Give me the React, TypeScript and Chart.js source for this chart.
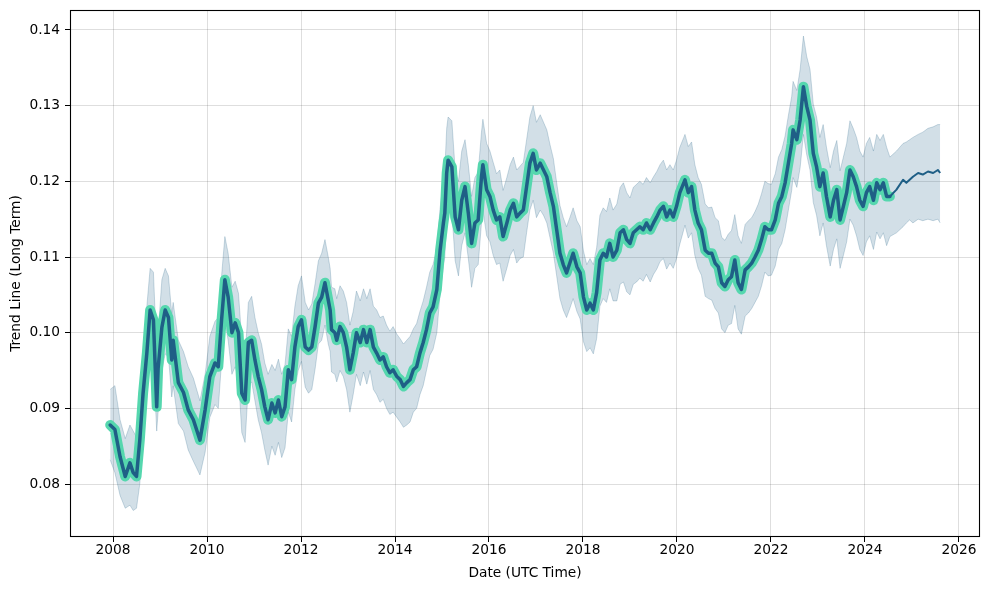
import React, { useEffect, useRef } from 'react';
import { Chart, registerables } from 'chart.js';

Chart.register(...registerables);

// Historical trend (decimal year, value)
const histDates = [
  2007.94, 2008.04, 2008.15, 2008.26, 2008.36, 2008.43, 2008.50, 2008.57, 2008.64, 2008.72,
  2008.79, 2008.86, 2008.93, 2008.96, 2009.04, 2009.11, 2009.18, 2009.25, 2009.28, 2009.39,
  2009.50, 2009.60, 2009.71, 2009.85, 2009.96, 2010.06, 2010.17, 2010.24, 2010.31, 2010.38,
  2010.45, 2010.53, 2010.60, 2010.67, 2010.74, 2010.81, 2010.88, 2010.95, 2011.02, 2011.09,
  2011.16, 2011.23, 2011.30, 2011.38, 2011.45, 2011.52, 2011.59, 2011.66, 2011.73, 2011.80,
  2011.87, 2011.94, 2012.01, 2012.09, 2012.16, 2012.23, 2012.30, 2012.37, 2012.44, 2012.51,
  2012.58, 2012.62, 2012.65, 2012.72, 2012.76, 2012.83, 2012.90, 2012.97, 2013.04, 2013.11,
  2013.18, 2013.26, 2013.33, 2013.40, 2013.47, 2013.54, 2013.61, 2013.68, 2013.75, 2013.82,
  2013.89, 2013.96, 2014.04, 2014.11, 2014.18, 2014.25, 2014.32, 2014.39, 2014.46, 2014.53,
  2014.60, 2014.67, 2014.74, 2014.81, 2014.89, 2014.96, 2015.03, 2015.06, 2015.10, 2015.13,
  2015.21, 2015.28, 2015.35, 2015.42, 2015.49, 2015.56, 2015.63, 2015.70, 2015.77, 2015.84,
  2015.87, 2015.95, 2016.02, 2016.09, 2016.16, 2016.23, 2016.30, 2016.38, 2016.45, 2016.52,
  2016.59, 2016.66, 2016.73, 2016.80, 2016.87, 2016.94, 2017.01, 2017.09, 2017.16, 2017.23,
  2017.30, 2017.37, 2017.44, 2017.51, 2017.58, 2017.65, 2017.72, 2017.79, 2017.87, 2017.94,
  2018.01, 2018.08, 2018.15, 2018.22, 2018.29, 2018.36, 2018.43, 2018.50, 2018.57, 2018.64,
  2018.72, 2018.79, 2018.86, 2018.93, 2019.00, 2019.07, 2019.14, 2019.21, 2019.28, 2019.35,
  2019.43, 2019.50, 2019.57, 2019.64, 2019.71, 2019.78, 2019.85, 2019.92, 2019.99, 2020.06,
  2020.17, 2020.24, 2020.31, 2020.38, 2020.45, 2020.52, 2020.60, 2020.67, 2020.74, 2020.81,
  2020.88, 2020.95, 2021.02, 2021.09, 2021.16, 2021.23, 2021.30, 2021.37, 2021.45, 2021.52,
  2021.59, 2021.66, 2021.73, 2021.80, 2021.87, 2021.94, 2022.01, 2022.09, 2022.16, 2022.23,
  2022.30, 2022.37, 2022.44, 2022.47, 2022.55, 2022.62, 2022.69, 2022.76, 2022.83, 2022.90,
  2022.97, 2023.04, 2023.11, 2023.18, 2023.26, 2023.33, 2023.40, 2023.47, 2023.54, 2023.61,
  2023.68, 2023.75, 2023.82, 2023.89, 2023.96, 2024.03, 2024.10, 2024.18, 2024.25, 2024.32,
  2024.39, 2024.46, 2024.53,
];

const histTrend = [
  0.0878, 0.0872, 0.0836, 0.0810, 0.0828, 0.0815, 0.0810, 0.0858, 0.0920, 0.0973,
  0.1030, 0.1017, 0.0902, 0.0953, 0.1007, 0.1030, 0.1020, 0.0964, 0.0990, 0.0934,
  0.0921, 0.0898, 0.0885, 0.0858, 0.0898, 0.0942, 0.0960, 0.0955, 0.1017, 0.1070,
  0.1047, 0.1000, 0.1013, 0.1000, 0.0920, 0.0911, 0.0987, 0.0990, 0.0964, 0.0942,
  0.0925, 0.0902, 0.0885, 0.0907, 0.0894, 0.0911, 0.0889, 0.0902, 0.0951, 0.0938,
  0.0981, 0.1008, 0.1017, 0.0981, 0.0977, 0.0981, 0.1008, 0.1039, 0.1047, 0.1066,
  0.1043, 0.1030, 0.1004, 0.1000, 0.0990, 0.1008, 0.1000, 0.0981, 0.0951, 0.0973,
  0.1000, 0.0987, 0.1004, 0.0987, 0.1004, 0.0981, 0.0973, 0.0964, 0.0968, 0.0955,
  0.0947, 0.0951, 0.0942, 0.0938, 0.0929, 0.0934, 0.0938, 0.0951, 0.0955, 0.0973,
  0.0987, 0.1004, 0.1026, 0.1034, 0.1057, 0.1109, 0.1145, 0.1158, 0.1211, 0.1228,
  0.1219, 0.1153, 0.1136, 0.1175, 0.1193, 0.1158, 0.1118, 0.1145, 0.1149, 0.1206,
  0.1222, 0.1189, 0.1180, 0.1162, 0.1149, 0.1153, 0.1127, 0.1145, 0.1162, 0.1171,
  0.1153, 0.1158, 0.1162, 0.1193, 0.1224, 0.1237, 0.1215, 0.1224, 0.1215, 0.1206,
  0.1185, 0.1167, 0.1136, 0.1105, 0.1090, 0.1079, 0.1092, 0.1105, 0.1087, 0.1079,
  0.1047, 0.1030, 0.1039, 0.1030, 0.1053, 0.1096, 0.1105, 0.1100, 0.1118, 0.1100,
  0.1109, 0.1132, 0.1136, 0.1123, 0.1118, 0.1132, 0.1136, 0.1140, 0.1136, 0.1145,
  0.1136, 0.1145, 0.1153, 0.1162, 0.1167, 0.1153, 0.1162, 0.1153, 0.1167, 0.1185,
  0.1202, 0.1185, 0.1193, 0.1162, 0.1145, 0.1136, 0.1109, 0.1105, 0.1105, 0.1092,
  0.1087, 0.1066, 0.1061, 0.1070, 0.1074, 0.1096, 0.1066, 0.1057, 0.1083, 0.1087,
  0.1092, 0.1100, 0.1109, 0.1123, 0.1140, 0.1136, 0.1136, 0.1149, 0.1171, 0.1180,
  0.1198, 0.1224, 0.1250, 0.1268, 0.1255, 0.1281, 0.1325, 0.1299, 0.1281, 0.1237,
  0.1219, 0.1193, 0.1211, 0.1180, 0.1153, 0.1175, 0.1189, 0.1149, 0.1167, 0.1185,
  0.1215, 0.1206, 0.1193, 0.1175, 0.1167, 0.1185, 0.1193, 0.1175, 0.1198, 0.1189,
  0.1198, 0.1180, 0.1180,
];

// Forecast trend (continues from the last historical point)
const fcDates = [2024.67, 2024.81, 2024.88, 2024.95, 2025.02, 2025.13, 2025.23, 2025.34, 2025.45, 2025.55, 2025.60];
const fcTrend = [0.1189, 0.1202, 0.1198, 0.1202, 0.1206, 0.1211, 0.1209, 0.1213, 0.1211, 0.1215, 0.1211];

// Uncertainty band (aligned with histDates followed by fcDates)
const bandUpper = [
  0.0925, 0.0930, 0.0885, 0.0860, 0.0878, 0.0870, 0.0862, 0.0905, 0.0968, 0.1035,
  0.1085, 0.1080, 0.0975, 0.1000, 0.1070, 0.1085, 0.1075, 0.1025, 0.1040, 0.0990,
  0.0975, 0.0955, 0.0940, 0.0910, 0.0945, 0.0995, 0.1015, 0.1020, 0.1075, 0.1127,
  0.1105, 0.1060, 0.1068, 0.1052, 0.0990, 0.0965, 0.1040, 0.1048, 0.1020, 0.1000,
  0.0985, 0.0960, 0.0945, 0.0958, 0.0950, 0.0965, 0.0945, 0.0958, 0.1005, 0.0995,
  0.1035, 0.1062, 0.1075, 0.1040, 0.1030, 0.1038, 0.1065, 0.1095, 0.1105, 0.1123,
  0.1100, 0.1085, 0.1060, 0.1058, 0.1045, 0.1062, 0.1055, 0.1040, 0.1010, 0.1028,
  0.1055, 0.1042, 0.1058, 0.1045, 0.1058, 0.1035, 0.1030, 0.1020, 0.1022, 0.1010,
  0.1002, 0.1008, 0.0998, 0.0992, 0.0985, 0.0990, 0.0995, 0.1005, 0.1012, 0.1028,
  0.1042, 0.1060, 0.1080, 0.1090, 0.1112, 0.1165, 0.1200, 0.1215, 0.1270, 0.1285,
  0.1280, 0.1215, 0.1200, 0.1240, 0.1255, 0.1222, 0.1180, 0.1205, 0.1212, 0.1265,
  0.1282, 0.1250, 0.1240, 0.1225, 0.1210, 0.1215, 0.1188, 0.1205, 0.1222, 0.1232,
  0.1215, 0.1220, 0.1225, 0.1255, 0.1285, 0.1300, 0.1278, 0.1288, 0.1278, 0.1268,
  0.1248, 0.1230, 0.1198, 0.1168, 0.1152, 0.1140, 0.1152, 0.1165, 0.1148, 0.1140,
  0.1108, 0.1090, 0.1098, 0.1090, 0.1112, 0.1155, 0.1165, 0.1160, 0.1178, 0.1162,
  0.1170, 0.1192, 0.1198, 0.1185, 0.1178, 0.1192, 0.1196, 0.1200, 0.1196, 0.1205,
  0.1198, 0.1206, 0.1213, 0.1222, 0.1228, 0.1215, 0.1222, 0.1215, 0.1228, 0.1245,
  0.1262, 0.1246, 0.1252, 0.1222, 0.1205, 0.1196, 0.1170, 0.1165, 0.1166, 0.1152,
  0.1148, 0.1126, 0.1122, 0.1130, 0.1135, 0.1156, 0.1128, 0.1118, 0.1143, 0.1148,
  0.1152, 0.1160, 0.1170, 0.1184, 0.1200, 0.1197, 0.1196, 0.1210, 0.1232, 0.1242,
  0.1260, 0.1287, 0.1312, 0.1332, 0.1320, 0.1348, 0.1392, 0.1365, 0.1348, 0.1302,
  0.1285, 0.1258, 0.1275, 0.1245, 0.1218, 0.1240, 0.1254, 0.1214, 0.1232, 0.1250,
  0.1280, 0.1270, 0.1258, 0.1240, 0.1232, 0.1250, 0.1258, 0.1240, 0.1262, 0.1254,
  0.1262, 0.1245, 0.1232,
  0.1240, 0.1250, 0.1252, 0.1255, 0.1258, 0.1262, 0.1265, 0.1270, 0.1272, 0.1275, 0.1275,
];

const bandLower = [
  0.0832, 0.0815, 0.0785, 0.0768, 0.0772, 0.0765, 0.0768, 0.0800, 0.0860, 0.0925,
  0.0975, 0.0960, 0.0870, 0.0895, 0.0950, 0.0972, 0.0968, 0.0915, 0.0930, 0.0880,
  0.0870, 0.0845, 0.0830, 0.0812, 0.0842, 0.0888, 0.0905, 0.0900, 0.0962, 0.1015,
  0.0990, 0.0945, 0.0955, 0.0940, 0.0868, 0.0855, 0.0930, 0.0935, 0.0910, 0.0885,
  0.0868, 0.0845, 0.0825, 0.0850, 0.0838, 0.0855, 0.0835, 0.0848, 0.0895, 0.0882,
  0.0925, 0.0950, 0.0962, 0.0928, 0.0920, 0.0925, 0.0952, 0.0985, 0.0990, 0.1010,
  0.0985, 0.0975, 0.0948, 0.0945, 0.0935, 0.0950, 0.0942, 0.0925, 0.0895, 0.0918,
  0.0945, 0.0930, 0.0948, 0.0932, 0.0950, 0.0925, 0.0918, 0.0908, 0.0912, 0.0900,
  0.0892, 0.0895, 0.0888, 0.0882, 0.0875, 0.0878, 0.0882, 0.0895, 0.0900, 0.0918,
  0.0930, 0.0950, 0.0970, 0.0978, 0.1000, 0.1052, 0.1088, 0.1100, 0.1150, 0.1168,
  0.1160, 0.1095, 0.1075, 0.1115, 0.1132, 0.1098, 0.1060, 0.1085, 0.1090, 0.1145,
  0.1162, 0.1128, 0.1120, 0.1102, 0.1090, 0.1092, 0.1068, 0.1085, 0.1102, 0.1110,
  0.1092, 0.1098, 0.1100, 0.1132, 0.1162, 0.1175, 0.1152, 0.1162, 0.1155, 0.1145,
  0.1125, 0.1105, 0.1075, 0.1045, 0.1030, 0.1020, 0.1032, 0.1045, 0.1028, 0.1018,
  0.0988, 0.0975, 0.0980, 0.0972, 0.0992, 0.1035, 0.1045, 0.1040, 0.1058, 0.1042,
  0.1042, 0.1064, 0.1067, 0.1054, 0.1050, 0.1064, 0.1067, 0.1072, 0.1068, 0.1077,
  0.1067, 0.1077, 0.1084, 0.1094, 0.1098, 0.1084, 0.1092, 0.1085, 0.1098, 0.1117,
  0.1142, 0.1125, 0.1132, 0.1102, 0.1085, 0.1076, 0.1048, 0.1045, 0.1043, 0.1032,
  0.1026, 0.1005, 0.1000, 0.1010, 0.1012, 0.1036, 0.1005, 0.0998, 0.1022, 0.1026,
  0.1032, 0.1040, 0.1048, 0.1062, 0.1080, 0.1075, 0.1076, 0.1088, 0.1110, 0.1118,
  0.1136, 0.1162, 0.1188, 0.1205, 0.1192, 0.1218, 0.1262, 0.1235, 0.1215, 0.1172,
  0.1155, 0.1128, 0.1145, 0.1115, 0.1088, 0.1110, 0.1124, 0.1085, 0.1102, 0.1120,
  0.1150, 0.1142, 0.1128, 0.1110, 0.1102, 0.1120, 0.1128, 0.1110, 0.1133, 0.1124,
  0.1132, 0.1115, 0.1127,
  0.1132, 0.1140, 0.1145, 0.1149, 0.1145, 0.1150, 0.1148, 0.1150, 0.1148, 0.1150, 0.1145,
];

const xTicks = [2008, 2010, 2012, 2014, 2016, 2018, 2020, 2022, 2024, 2026];
const yTicks = [0.08, 0.09, 0.10, 0.11, 0.12, 0.13, 0.14];

const FONT = { family: '"DejaVu Sans", sans-serif', size: 13.75 };

const framePlugin = {
  id: 'frame',
  afterDatasetsDraw(chart: any) {
    const { ctx, chartArea: a } = chart;
    ctx.save();
    ctx.strokeStyle = '#000';
    ctx.lineWidth = 1.1;
    ctx.strokeRect(Math.round(a.left) + 0.5, Math.round(a.top) + 0.5, Math.round(a.right - a.left) - 1, Math.round(a.bottom - a.top) - 1);
    ctx.restore();
  },
};

export default function App() {
  const ref = useRef<HTMLCanvasElement>(null);

  useEffect(() => {
    document.body.style.margin = '0';
    const canvas = ref.current;
    if (!canvas) return;
    const allDates = histDates.concat(fcDates);
    const pts = (xs: number[], ys: number[]) => xs.map((x, i) => ({ x, y: ys[i] }));
    const fcPts = [{ x: histDates[histDates.length - 1], y: histTrend[histTrend.length - 1] }].concat(pts(fcDates, fcTrend));
    const edge = 'rgba(31,95,134,0.22)';

    const chart = new Chart(canvas, {
      type: 'line',
      data: {
        datasets: [
          {
            data: pts(histDates, histTrend),
            borderColor: '#1f5f86',
            borderWidth: 3.5,
            pointRadius: 0,
            fill: false,
            borderJoinStyle: 'round',
            borderCapStyle: 'round',
          },
          {
            data: fcPts,
            borderColor: '#1f5f86',
            borderWidth: 2,
            pointRadius: 0,
            fill: false,
            borderJoinStyle: 'round',
          },
          {
            data: pts(histDates, histTrend),
            borderColor: '#55d7ae',
            borderWidth: 10,
            pointRadius: 0,
            fill: false,
            borderJoinStyle: 'round',
            borderCapStyle: 'round',
          },
          {
            data: pts(allDates, bandUpper),
            borderColor: edge,
            borderWidth: 1,
            pointRadius: 0,
            fill: false,
          },
          {
            data: pts(allDates, bandLower),
            borderColor: edge,
            borderWidth: 1,
            pointRadius: 0,
            fill: '-1',
            backgroundColor: 'rgba(31,95,134,0.2)',
          },
        ],
      } as any,
      options: {
        responsive: false,
        animation: false,
        devicePixelRatio: 1,
        layout: { padding: { left: 0, right: 10, top: 10, bottom: 0 } },
        plugins: { legend: { display: false }, tooltip: { enabled: false } },
        events: [],
        scales: {
          x: {
            type: 'linear',
            min: 2007.085,
            max: 2026.447,
            afterBuildTicks: (s: any) => {
              s.ticks = xTicks.map((v) => ({ value: v }));
            },
            afterFit: (s: any) => {
              s.height = 53;
              s.paddingLeft = 0;
              s.paddingRight = 0;
            },
            ticks: {
              callback: (v: any) => String(v),
              color: '#000',
              font: FONT,
              padding: 0,
              maxRotation: 0,
              autoSkip: false,
            },
            grid: { color: 'rgba(0,0,0,0.13)', tickColor: '#000', tickLength: 5, lineWidth: 1 },
            border: { display: false },
            title: { display: true, text: 'Date (UTC Time)', color: '#000', font: FONT, padding: { top: 0, bottom: 8 } },
          },
          y: {
            type: 'linear',
            min: 0.073,
            max: 0.14264,
            afterBuildTicks: (s: any) => {
              s.ticks = yTicks.map((v) => ({ value: v }));
            },
            afterFit: (s: any) => {
              s.width = 70;
              s.paddingTop = 0;
              s.paddingBottom = 0;
            },
            ticks: {
              callback: (v: any) => Number(v).toFixed(2),
              color: '#000',
              font: FONT,
              padding: 5,
              autoSkip: false,
            },
            grid: { color: 'rgba(0,0,0,0.13)', tickColor: '#000', tickLength: 5, lineWidth: 1 },
            border: { display: false },
            title: { display: true, text: 'Trend Line (Long Term)', color: '#000', font: FONT, padding: { top: 8, bottom: 0 } },
          },
        },
      } as any,
      plugins: [framePlugin],
    });

    return () => chart.destroy();
  }, []);

  return (
    <div style={{ width: 990, height: 590 }}>
      <canvas ref={ref} width={990} height={590} style={{ display: 'block', width: '990px', height: '590px' }} />
    </div>
  );
}
